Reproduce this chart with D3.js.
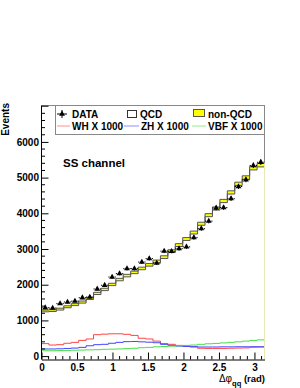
<!DOCTYPE html>
<html>
<head>
<meta charset="utf-8">
<title>Delta phi qq - SS channel</title>
<script src="https://cdn.jsdelivr.net/npm/d3@7"></script>
<style>
  body { margin: 0; background: #fff; }
  svg text { font-family: "Liberation Sans", Arial, Helvetica, sans-serif; font-weight: bold; }
</style>
</head>
<body>
<script>
// 30 bins of delta phi(qq), 0 .. pi
const nBins = 30;
const xMax = Math.PI;

// observed data
const dataCounts = [1355, 1345, 1470, 1515, 1540, 1635, 1655, 1880, 1985, 2215,
                    2310, 2450, 2450, 2635, 2730, 2605, 2940, 2935, 3010, 3060,
                    3320, 3570, 3780, 4150, 4160, 4410, 4750, 4940, 5340, 5430];
// stacked backgrounds
const qcd = [1240, 1250, 1290, 1355, 1415, 1485, 1585, 1725, 1835, 1975,
             2110, 2220, 2310, 2420, 2520, 2615, 2735, 2900, 3070, 3240,
             3420, 3665, 3905, 4090, 4300, 4540, 4780, 4955, 5215, 5300];
const nonQcd = [50, 50, 52, 55, 55, 58, 60, 62, 65, 65,
                68, 70, 70, 72, 72, 75, 75, 78, 80, 80,
                82, 85, 85, 88, 90, 90, 92, 95, 95, 98];
// signals scaled x1000
const whX1000 = [350, 310, 320, 360, 385, 440, 480, 600, 615, 625,
                 625, 610, 580, 500, 480, 420, 350, 330, 300, 290,
                 255, 220, 215, 215, 215, 220, 225, 230, 250, 255];
const zhX1000 = [200, 200, 205, 215, 225, 245, 290, 320, 330, 360,
                 385, 405, 410, 400, 390, 375, 330, 300, 280, 270,
                 265, 255, 255, 255, 260, 260, 262, 262, 262, 262];
const vbfX1000 = [150, 150, 155, 160, 165, 170, 175, 180, 190, 195,
                  200, 210, 220, 235, 245, 260, 270, 280, 290, 300,
                  310, 330, 345, 355, 370, 385, 400, 420, 440, 455];

const xTicks = [0, 0.5, 1, 1.5, 2, 2.5, 3];
const yTicks = [0, 1000, 2000, 3000, 4000, 5000, 6000];

const W = 300, H = 388;
const svg = d3.select("body").append("svg")
  .attr("width", W)
  .attr("height", H);

const x = d3.scaleLinear().domain([0, xMax]).range([41.5, 264.5]);
const y = d3.scaleLinear().domain([-95, 7020]).range([359.5, 105.5]);

const edges = d3.range(nBins + 1).map(i => i * xMax / nBins);
const total = qcd.map((v, i) => v + nonQcd[i]);

// turn bin values into step points
function steps(vals) {
  const pts = [];
  vals.forEach((v, i) => {
    pts.push([edges[i], v]);
    pts.push([edges[i + 1], v]);
  });
  return pts;
}

const area = d3.area().x(d => x(d[0])).y0(y(0)).y1(d => y(d[1]));
const line = d3.line().x(d => x(d[0])).y(d => y(d[1]));

// stacked hist: total in yellow, qcd in white over it
svg.append("path").attr("d", area(steps(total))).attr("fill", "#ffff00");
svg.append("path").attr("d", area(steps(qcd))).attr("fill", "#fff");
svg.append("path").attr("d", line(steps(total)))
  .attr("fill", "none").attr("stroke", "#555").attr("stroke-width", 1);
svg.append("path").attr("d", line(steps(qcd)))
  .attr("fill", "none").attr("stroke", "#555").attr("stroke-width", 1);

// signals
const signals = [
  { vals: whX1000, color: "#ff4444" },
  { vals: zhX1000, color: "#4444ff" },
  { vals: vbfX1000, color: "#44e044" }
];
signals.forEach(s => {
  svg.append("path").attr("d", line(steps(s.vals)))
    .attr("fill", "none").attr("stroke", s.color).attr("stroke-width", 1);
});

// data points with error bars
const tri = d3.symbol(d3.symbolTriangle, 15);
const pts = svg.append("g");
dataCounts.forEach((v, i) => {
  const cx = x((edges[i] + edges[i + 1]) / 2);
  const cy = y(v);
  const err = Math.sqrt(v);
  pts.append("line")
    .attr("x1", x(edges[i])).attr("x2", cx - 2.5)
    .attr("y1", cy).attr("y2", cy).attr("stroke", "#000");
  pts.append("line")
    .attr("x1", cx + 2.5).attr("x2", x(edges[i + 1]))
    .attr("y1", cy).attr("y2", cy).attr("stroke", "#000");
  pts.append("line")
    .attr("x1", cx).attr("x2", cx)
    .attr("y1", y(v + err)).attr("y2", y(v - err)).attr("stroke", "#000");
  pts.append("path").attr("d", tri())
    .attr("transform", `translate(${cx},${cy})`).attr("fill", "#000");
});

// frame
svg.append("line").attr("x1", 41.5).attr("x2", 264.5).attr("y1", 105.5).attr("y2", 105.5)
  .attr("stroke", "#888");
svg.append("line").attr("x1", 264.5).attr("x2", 264.5).attr("y1", 105.5).attr("y2", y(total[nBins - 1]))
  .attr("stroke", "#888");
svg.append("line").attr("x1", 264.5).attr("x2", 264.5).attr("y1", y(total[nBins - 1])).attr("y2", 359.5)
  .attr("stroke", "#e6eab4");

// axes
const yAxis = d3.axisLeft(y).tickValues(yTicks).tickSize(-7).tickSizeOuter(0)
  .tickPadding(2.5).tickFormat(d3.format("d"));
const gy = svg.append("g").attr("transform", "translate(41.5,0)").call(yAxis);
gy.select(".domain").attr("d", "M0,105.5V359.5");

const yMinor = d3.range(200, 7001, 200).filter(v => v % 1000 !== 0);
gy.selectAll(".minor").data(yMinor).enter().append("line")
  .attr("x1", 0).attr("x2", 3.5).attr("y1", d => y(d)).attr("y2", d => y(d))
  .attr("stroke", "#000");
gy.append("line").attr("x1", 0).attr("x2", 7).attr("y1", y(7000)).attr("y2", y(7000))
  .attr("stroke", "#000");

const xAxis = d3.axisBottom(x).tickValues(xTicks).tickSize(-7).tickSizeOuter(0)
  .tickPadding(4).tickFormat(d3.format("~g"));
const gx = svg.append("g").attr("transform", "translate(0,359.5)").call(xAxis);

const xMinor = d3.range(1, 32).map(i => i / 10).filter(v => Math.abs(v * 2 - Math.round(v * 2)) > 1e-6);
gx.selectAll(".minor").data(xMinor).enter().append("line")
  .attr("x1", d => x(d)).attr("x2", d => x(d)).attr("y1", 0).attr("y2", -3.5)
  .attr("stroke", "#000");

svg.selectAll(".tick text").attr("font-size", 10).attr("fill", "#000")
  .style("font-family", "'Liberation Sans', Arial, sans-serif").style("font-weight", "bold");

// axis titles
svg.append("text")
  .attr("transform", "translate(9,103) rotate(-90)")
  .attr("text-anchor", "end")
  .attr("font-size", 10)
  .text("Events");

const xt = svg.append("text")
  .attr("x", 265).attr("y", 382)
  .attr("text-anchor", "end")
  .attr("font-size", 9.5);
xt.append("tspan").attr("font-size", 10).style("font-weight", "normal").text("Δφ");
xt.append("tspan").attr("font-size", 7.5).attr("dy", 3.5).text("qq");
xt.append("tspan").attr("dy", -3.5).text(" (rad)");

// channel label
svg.append("text").attr("x", 63).attr("y", 167).attr("font-size", 11.5).text("SS channel");

// legend
const lg = svg.append("g");
lg.append("rect").attr("x", 55.5).attr("y", 105.5).attr("width", 209).attr("height", 29)
  .attr("fill", "#fff").attr("stroke", "#888");

// DATA marker
lg.append("line").attr("x1", 57).attr("x2", 67).attr("y1", 114).attr("y2", 114).attr("stroke", "#000");
lg.append("line").attr("x1", 62).attr("x2", 62).attr("y1", 110).attr("y2", 118).attr("stroke", "#000");
lg.append("path").attr("d", tri()).attr("transform", "translate(62,114)").attr("fill", "#000");

lg.append("rect").attr("x", 127.5).attr("y", 110.5).attr("width", 9).attr("height", 7)
  .attr("fill", "#fff").attr("stroke", "#333");
lg.append("rect").attr("x", 193.5).attr("y", 109.5).attr("width", 11).attr("height", 7)
  .attr("fill", "#ffff00").attr("stroke", "#555");

const legendText = [
  { t: "DATA", x: 72, y: 117.5 },
  { t: "QCD", x: 140, y: 117.5 },
  { t: "non-QCD", x: 208, y: 117.5 },
  { t: "WH X 1000", x: 72, y: 130 },
  { t: "ZH X 1000", x: 141, y: 130 },
  { t: "VBF X 1000", x: 208, y: 130 }
];
lg.selectAll("text.leg").data(legendText).enter().append("text")
  .attr("x", d => d.x).attr("y", d => d.y).attr("font-size", 10).text(d => d.t);

const legendLines = [
  { x1: 57, x2: 70, color: signals[0].color },
  { x1: 124, x2: 139, color: signals[1].color },
  { x1: 192, x2: 206, color: signals[2].color }
];
legendLines.forEach(d => {
  lg.append("line").attr("x1", d.x1).attr("x2", d.x2).attr("y1", 126).attr("y2", 126)
    .attr("stroke", d.color).attr("stroke-opacity", 0.6);
});
</script>
</body>
</html>
